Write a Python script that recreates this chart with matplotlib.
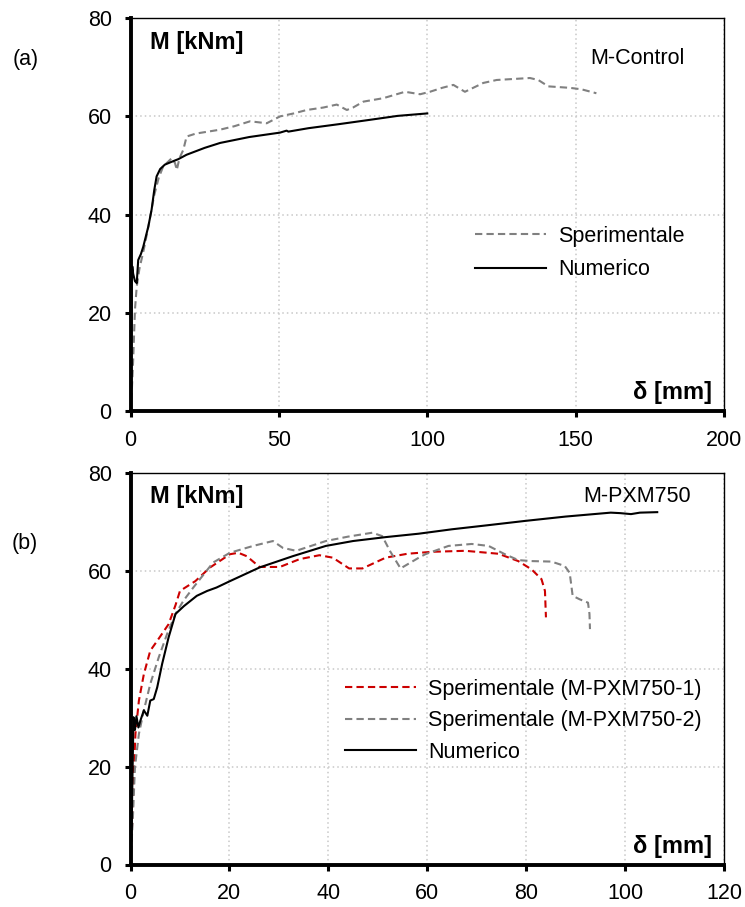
import matplotlib
matplotlib.use("Agg")
import matplotlib.pyplot as plt

plt.rcParams['font.family'] = ['Liberation Sans', 'DejaVu Sans']

# ---- (a) M-Control ----
a_num_x = [0, 0.2, 0.4, 0.6, 0.9, 1.5, 2.1, 2.6, 3.5, 4.3, 6.0, 7.1, 8.0, 8.8, 10, 11.6, 14,
           16.1, 18.9, 25, 30.2, 40, 50.4, 52.6, 53.2, 60, 70, 80.7, 90, 100]
a_num_m = [0, 15, 26, 29.5, 28, 26.5, 26.1, 30.8, 32, 33.5, 37.6, 41, 45, 47.8, 49.3, 50.2, 50.8,
           51.3, 52.2, 53.6, 54.6, 55.8, 56.7, 57.1, 56.9, 57.6, 58.4, 59.3, 60.1, 60.6]

a_exp_x = [0, 0.5, 0.9, 1.5, 2.1, 3, 4.5, 6, 8, 9.5, 11, 13.9, 15, 15.6, 16.5, 17.8, 18.9, 22,
           30.2, 35, 40.3, 45.9, 50.4, 55, 59.4, 65, 69.5, 72.9, 75, 78.5, 85.2, 92.5, 97.6,
           100.9, 105, 108.8, 112.7, 118.9, 123.4, 134.6, 137.4, 140.8, 148.1, 152, 157]
a_exp_m = [0, 5, 10.5, 20.7, 25.4, 29, 33, 37.5, 44, 47.5, 49.8, 51.5, 50.5, 49.1, 51.5, 53.2, 55.9, 56.5,
           57.3, 58.0, 59.0, 58.6, 60.0, 60.6, 61.3, 61.8, 62.4, 61.3, 61.8, 63.0, 63.7, 65.0, 64.5,
           65.0, 65.8, 66.4, 65.0, 66.8, 67.4, 67.8, 67.4, 66.1, 65.8, 65.5, 64.7]

# ---- (b) M-PXM750 ----
b_num_x = [0, 0.3, 0.6, 0.9, 1.2, 1.6, 2.0, 2.7, 3.4, 4.0, 4.7, 5.4, 6.4, 7.7, 9.1, 10.8, 13.4,
           15.5, 17.4, 20.1, 26.1, 32.8, 39.5, 45, 51.6, 58.3, 65, 72, 79.7, 88, 97.1, 99, 101.2,
           103, 106.5]
b_num_m = [0, 12, 30.1, 27.5, 30.3, 28, 29.4, 31.5, 30.4, 33.5, 33.8, 36.2, 41, 46.4, 51.2, 52.8, 54.9,
           55.9, 56.6, 57.9, 60.7, 63.0, 65.1, 66.1, 66.9, 67.6, 68.5, 69.3, 70.2, 71.1, 71.9, 71.8, 71.6,
           71.9, 72.0]

b_exp1_x = [0, 0.4, 0.7, 1.0, 1.7, 2.7, 4.0, 5.4, 7.7, 9.1, 10, 13.1, 16.1, 20.1, 21.8, 23.5, 26.1,
            30.2, 34.2, 38.2, 40.9, 44.2, 46.9, 51.6, 56, 61, 67.7, 74.4, 78.4, 81.1, 83.1, 83.8, 84.0]
b_exp1_m = [0, 10, 19.9, 26.7, 33.5, 38.9, 43.7, 45.7, 49.1, 53.0, 55.9, 57.9, 60.7, 63.4, 63.7, 63.0, 60.8,
            60.8, 62.4, 63.2, 62.7, 60.5, 60.5, 62.7, 63.5, 63.9, 64.1, 63.5, 62.0, 60.3, 58.3, 55.9, 50.5]

b_exp2_x = [0, 0.5, 0.9, 1.7, 2.7, 4.0, 5.7, 7.4, 9.1, 10.7, 12.7, 16.7, 20.1, 24.8, 28.8, 30.8,
            33.5, 39.5, 44, 48.9, 50.9, 52.5, 54.6, 58.3, 59.6, 64.3, 69.0, 72.4, 75.7, 78.4, 81.1,
            85.1, 87.8, 88.8, 89.4, 90.8, 92.5, 92.8, 92.9]
b_exp2_m = [0, 10, 19.9, 26.7, 31.5, 36.9, 42.3, 47.1, 51.2, 53.9, 56.6, 61.7, 63.7, 65.1, 66.1, 64.7,
            64.1, 66.1, 67, 67.8, 67.1, 64, 60.5, 62.7, 63.4, 65.1, 65.5, 65.1, 63.4, 62.2, 62.0,
            61.9, 61.0, 59.6, 54.9, 54.2, 53.5, 51.2, 48.1]

a_xticks = [0, 50, 100, 150, 200]
b_xticks = [0, 20, 40, 60, 80, 100, 120]
yticks = [0, 20, 40, 60, 80]

W, H = 745, 907
fig = plt.figure(figsize=(W / 100, H / 100), dpi=100)


def px_axes(l, t, r, b):
    return fig.add_axes([l / W, 1 - b / H, (r - l) / W, (b - t) / H])


def px(x, y):
    return x / W, 1 - y / H


FS = 15.5
FSB = 17
GRAY = '#808080'
RED = '#cc0000'
DASH = (0, (3.5, 2))


def style(ax, xlim, xticks):
    ax.set_xlim(*xlim)
    ax.set_ylim(0, 80)
    ax.set_xticks(xticks)
    ax.set_yticks(yticks)
    ax.grid(True, color='#c8c8c8', linestyle=(0, (1, 2)), linewidth=1.1)
    ax.set_axisbelow(True)
    ax.spines['left'].set_linewidth(2.8)
    ax.spines['bottom'].set_linewidth(2.8)
    ax.spines['right'].set_linewidth(1.0)
    ax.spines['top'].set_linewidth(1.0)
    ax.tick_params(axis='both', direction='out', length=4.5, width=2.2, labelsize=FS)
    ax.tick_params(axis='x', pad=9)
    ax.tick_params(axis='y', pad=9)
    ax.tick_params(top=False, right=False)


def legend(ax, x, y, spacing):
    ax.legend(loc='upper left', bbox_to_anchor=px(x, y), bbox_transform=fig.transFigure,
              frameon=False, fontsize=FS, handlelength=3.3, handletextpad=0.55,
              labelspacing=spacing, borderpad=0, borderaxespad=0)


# panel (a)
ax1 = px_axes(130.5, 18, 724, 411.5)
style(ax1, (0, 200), a_xticks)
ax1.plot(a_exp_x, a_exp_m, color=GRAY, linestyle=DASH, linewidth=1.5, label='Sperimentale')
ax1.plot(a_num_x, a_num_m, color='black', linewidth=1.5, label='Numerico')
legend(ax1, 475, 226, 0.58)

# panel (b)
ax2 = px_axes(130.5, 473, 724, 864.5)
style(ax2, (0, 120), b_xticks)
ax2.plot(b_exp1_x, b_exp1_m, color=RED, linestyle=DASH, linewidth=1.5,
         label='Sperimentale (M-PXM750-1)')
ax2.plot(b_exp2_x, b_exp2_m, color=GRAY, linestyle=DASH, linewidth=1.5,
         label='Sperimentale (M-PXM750-2)')
ax2.plot(b_num_x, b_num_m, color='black', linewidth=1.5, label='Numerico')
legend(ax2, 345, 679, 0.48)

# axis titles inside the plots
for ytop, ybot in ((42, 392), (496, 846)):
    fig.text(*px(150, ytop), 'M [kNm]', fontsize=FSB, fontweight='bold', va='center', ha='left')
    fig.text(*px(712, ybot), 'δ [mm]', fontsize=FSB, fontweight='bold', va='center', ha='right')

fig.text(*px(590, 58), 'M-Control', fontsize=FS, va='center', ha='left')
fig.text(*px(583, 497), 'M-PXM750', fontsize=FS, va='center', ha='left')
fig.text(*px(26, 60), '(a)', fontsize=FS, va='center', ha='center')
fig.text(*px(25, 543), '(b)', fontsize=FS, va='center', ha='center')

fig.savefig('out.png', dpi=100)
